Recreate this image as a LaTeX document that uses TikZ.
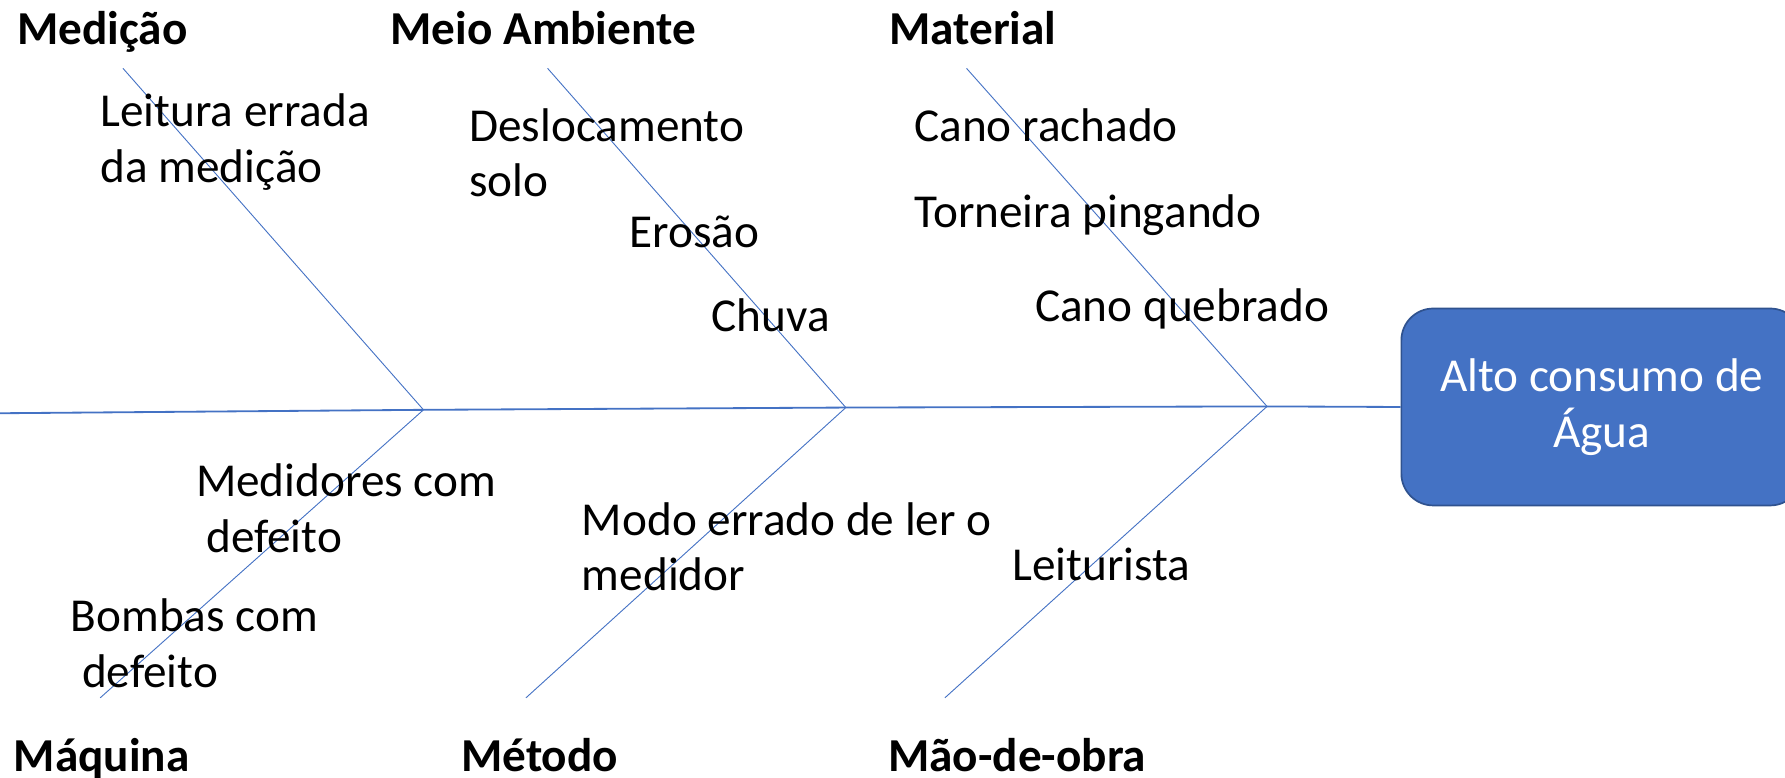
\documentclass[tikz,border=0pt]{standalone}
\usepackage{fontspec}
\setmainfont{Carlito}
\definecolor{bone}{HTML}{4472C4}
\definecolor{boxedge}{HTML}{2F528F}
\begin{document}
\begin{tikzpicture}[x=1pt,y=-1pt,
  spine/.style={draw=bone,line width=1.6pt},
  bonel/.style={draw=bone,line width=0.8pt},
  cause/.style={anchor=base west,inner sep=0pt,align=left,font=\fontsize{41.5}{49}\selectfont},
  cat/.style={anchor=base west,inner sep=0pt,font=\fontsize{41.5}{49}\selectfont\bfseries},
  effect/.style={draw=boxedge,line width=1.5pt,fill=bone,rounded corners=28pt,
     minimum width=352pt,minimum height=173pt,text=white,align=center,
     font=\fontsize{41.5}{49}\selectfont}]
\useasboundingbox (0,0) rectangle (1568,683);
% junctions and bone ends
\coordinate (L) at (0,363);
\coordinate (J1) at (372,360);
\coordinate (J2) at (743,358);
\coordinate (J3) at (1113,357);
\coordinate (T1) at (108,60);
\coordinate (T2) at (481,60);
\coordinate (T3) at (849,60);
\coordinate (B1) at (88,613);
\coordinate (B2) at (462,613);
\coordinate (B3) at (830,613);
% effect
\node[effect] (eff) at (1407,357.5) {Alto consumo de\\Água};
% spine and bones
\draw[spine] (L) -- (J1) -- (J2) -- (J3) -- (eff.west);
\draw[bonel] (T1) -- (J1);
\draw[bonel] (T2) -- (J2);
\draw[bonel] (T3) -- (J3);
\draw[bonel] (B1) -- (J1);
\draw[bonel] (B2) -- (J2);
\draw[bonel] (B3) -- (J3);
% categories
\node[cat] (c1) at (15,39) {Medição};
\node[cat] (c2) at (343,39) {Meio Ambiente};
\node[cat] (c3) at (781,39) {Material};
\node[cat] (c4) at (12,678) {Máquina};
\node[cat] (c5) at (405,678) {Método};
\node[cat] (c6) at (780,678) {Mão-de-obra};
% causes (base = baseline of the last line)
\node[cause] (a1) at (88,160) {Leitura errada\\da medição};
\node[cause] (a2) at (412,173) {Deslocamento\\solo};
\node[cause] (a3) at (553,217) {Erosão};
\node[cause] (a4) at (625,291) {Chuva};
\node[cause] (a5) at (803,124) {Cano rachado};
\node[cause] (a6) at (803,200) {Torneira pingando};
\node[cause] (a7) at (909,282) {Cano quebrado};
\node[cause] (b1) at (172,485) {Medidores com\\\hspace*{9pt}defeito};
\node[cause] (b2) at (62,604) {Bombas com\\\hspace*{10pt}defeito};
\node[cause] (b3) at (511,519) {Modo errado de ler o\\medidor};
\node[cause] (b4) at (889,510) {Leiturista};
\end{tikzpicture}
\end{document}
